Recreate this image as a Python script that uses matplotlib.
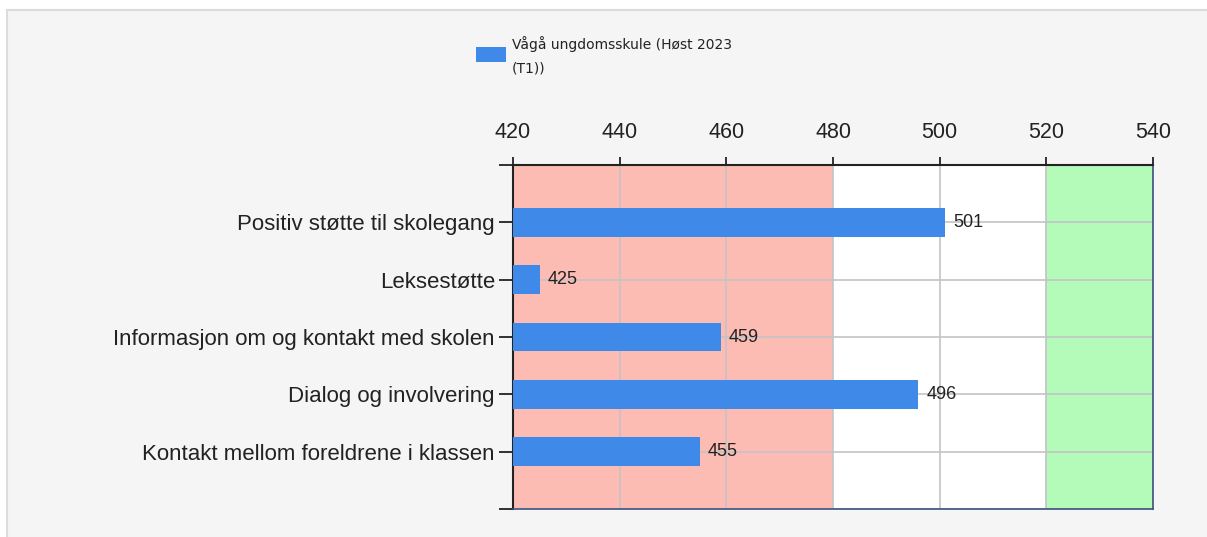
import matplotlib.pyplot as plt
from matplotlib.patches import Rectangle

categories = ["Positiv støtte til skolegang", "Leksestøtte",
              "Informasjon om og kontakt med skolen", "Dialog og involvering",
              "Kontakt mellom foreldrene i klassen"]
values = [501, 425, 459, 496, 455]
series_name = "Vågå ungdomsskule (Høst 2023\n(T1))"
x_ticks = [420, 440, 460, 480, 500, 520, 540]
bands = [(420, 480, "#fcbcb3"), (480, 520, "#ffffff"), (520, 540, "#b4fbba")]

font = "Liberation Sans"

W, H = 1207, 537
fig = plt.figure(figsize=(W / 100, H / 100), dpi=100)
fig.patch.set_facecolor("white")
fig.patches.append(Rectangle((7 / W, -0.1), 1.2, 1.1 - 10 / H, transform=fig.transFigure,
                             facecolor="#f5f5f5", edgecolor="#dcdcdc", lw=1.5, zorder=-10))

ax = fig.add_axes([513 / W, 1 - 509 / H, (1153 - 513) / W, (509 - 165) / H])
for lo, hi, c in bands:
    ax.axvspan(lo, hi, color=c, zorder=0, lw=0)

pos = list(range(1, len(categories) + 1))
ax.barh(pos, values, left=0, height=0.5, color="#3f8ae9", zorder=3)
for p, v in zip(pos, values):
    ax.text(v + 1.5, p, str(v), va="center", ha="left", fontsize=13,
            family=font, color="#222222", zorder=4)

ax.set_xlim(420, 540)
ax.set_ylim(6, 0)
ax.xaxis.tick_top()
ax.set_xticks(x_ticks)
ax.set_xticklabels([str(t) for t in x_ticks], fontsize=15.5, family=font, color="#222222")
ax.set_yticks([0] + pos + [6])
ax.set_yticklabels([""] + categories + [""], fontsize=16, family=font, color="#222222")
ax.tick_params(axis="y", length=10, width=1.3, color="#222222", pad=3)
ax.tick_params(axis="x", length=6, width=1.3, color="#222222", pad=10)
ax.grid(True, color="#c4c4c4", lw=1.2, zorder=1)
ax.set_axisbelow(True)
for s in ["top", "left"]:
    ax.spines[s].set_color("#222222")
    ax.spines[s].set_linewidth(1.5)
for s in ["bottom", "right"]:
    ax.spines[s].set_color("#3c5480")
    ax.spines[s].set_linewidth(1.2)

fig.patches.append(Rectangle((476 / W, 1 - 62 / H), 30 / W, 15 / H, transform=fig.transFigure,
                             facecolor="#3f8ae9", edgecolor="none"))
fig.text(512 / W, 1 - 36 / H, series_name, va="top", ha="left", fontsize=10,
         family="DejaVu Sans", color="#222222", linespacing=1.9)

fig.savefig("out.png", dpi=100)
